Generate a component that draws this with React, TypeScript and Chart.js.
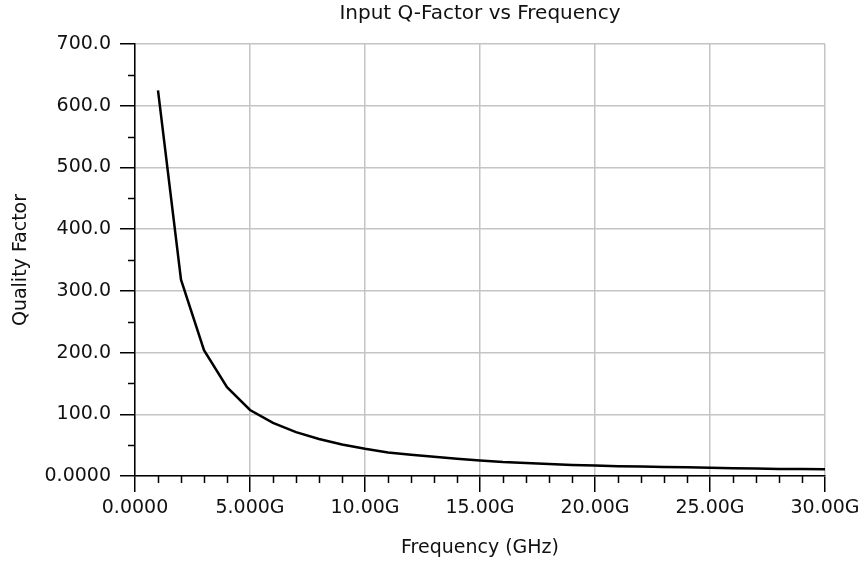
import React, { useEffect, useRef } from "react";
import { Chart, registerables } from "chart.js";

Chart.register(...registerables);

const chartTitle = "Input Q-Factor vs Frequency";
const xAxisTitle = "Frequency (GHz)";
const yAxisTitle = "Quality Factor";

const freqGHz = [1, 2, 3, 4, 5, 6, 7, 8, 9, 10, 11, 12, 13, 14, 15, 16, 17, 18, 19, 20, 21, 22, 23, 24, 25, 26, 27, 28, 29, 30];
const qFactor = [625, 318, 204, 144, 107, 86, 71, 60, 51, 44, 38, 34.5, 31, 28, 25, 22.5, 21, 19.5, 18, 17, 16, 15.5, 14.5, 14, 13.5, 12.5, 12, 11.5, 11.2, 11];

const xTickLabels = ["0.0000", "5.000G", "10.00G", "15.00G", "20.00G", "25.00G", "30.00G"];
const yTickLabels = ["0.0000", "100.0", "200.0", "300.0", "400.0", "500.0", "600.0", "700.0"];

const FONT = "'DejaVu Sans', sans-serif";
const TEXT = "#111";

const minorTicks = {
  id: "minorTicks",
  afterDraw(chart: any) {
    const { ctx, scales } = chart;
    const x = scales.x;
    const y = scales.y;
    ctx.save();
    ctx.strokeStyle = "#000";
    ctx.lineWidth = 1.5;
    ctx.beginPath();
    for (let v = 50; v < 700; v += 100) {
      const py = Math.round(y.getPixelForValue(v)) + 0.5;
      ctx.moveTo(x.left - 7, py);
      ctx.lineTo(x.left, py);
    }
    for (let v = 1; v < 30; v++) {
      if (v % 5 === 0) continue;
      const px = Math.round(x.getPixelForValue(v)) + 0.5;
      ctx.moveTo(px, y.bottom);
      ctx.lineTo(px, y.bottom + 7);
    }
    ctx.stroke();
    ctx.restore();
  },
};

export default function App() {
  const ref = useRef<HTMLCanvasElement | null>(null);
  useEffect(() => {
    if (!ref.current) return;
    const chart = new Chart(ref.current, {
      type: "line",
      data: {
        datasets: [
          {
            data: freqGHz.map((f, i) => ({ x: f, y: qFactor[i] })),
            borderColor: "#000",
            borderWidth: 2.5,
            pointRadius: 0,
            tension: 0,
            fill: false,
          },
        ],
      },
      options: {
        animation: false,
        responsive: false,
        devicePixelRatio: 1,
        layout: { padding: { left: 0, right: 40, top: 0, bottom: 0 } },
        plugins: {
          legend: { display: false },
          tooltip: { enabled: false },
          title: {
            display: true,
            text: chartTitle,
            fullSize: false,
            color: TEXT,
            font: { family: FONT, size: 20, weight: "normal" },
            padding: { top: 2, bottom: 18 },
          },
        },
        scales: {
          x: {
            type: "linear",
            min: 0,
            max: 30,
            afterFit(scale: any) {
              scale.height = 90;
            },
            ticks: {
              stepSize: 5,
              autoSkip: false,
              maxRotation: 0,
              padding: 5,
              color: TEXT,
              font: { family: FONT, size: 19 },
              callback: (_v: any, i: number) => xTickLabels[i],
            },
            grid: {
              color: "#c4c4c4",
              lineWidth: 1.5,
              tickLength: 16,
              tickColor: "#000",
              tickWidth: 1.5,
            },
            border: { color: "#000", width: 1.5 },
            title: {
              display: true,
              text: xAxisTitle,
              color: TEXT,
              font: { family: FONT, size: 19 },
              padding: { top: 0, bottom: 7 },
            },
          },
          y: {
            type: "linear",
            min: 0,
            max: 700,
            afterFit(scale: any) {
              scale.width = 135;
            },
            ticks: {
              stepSize: 100,
              autoSkip: false,
              padding: 9,
              color: TEXT,
              font: { family: FONT, size: 19 },
              callback: (_v: any, i: number) => yTickLabels[i],
            },
            grid: {
              color: "#c4c4c4",
              lineWidth: 1.5,
              tickLength: 15,
              tickColor: "#000",
              tickWidth: 1.5,
            },
            border: { color: "#000", width: 1.5 },
            title: {
              display: true,
              text: yAxisTitle,
              color: TEXT,
              font: { family: FONT, size: 19 },
              padding: { top: 10, bottom: 0 },
            },
          },
        },
      },
      plugins: [minorTicks],
    });
    return () => chart.destroy();
  }, []);
  return (
    <div style={{ position: "fixed", left: 0, top: 0, width: 865, height: 566, background: "#fff" }}>
      <canvas ref={ref} width={865} height={566} />
    </div>
  );
}
